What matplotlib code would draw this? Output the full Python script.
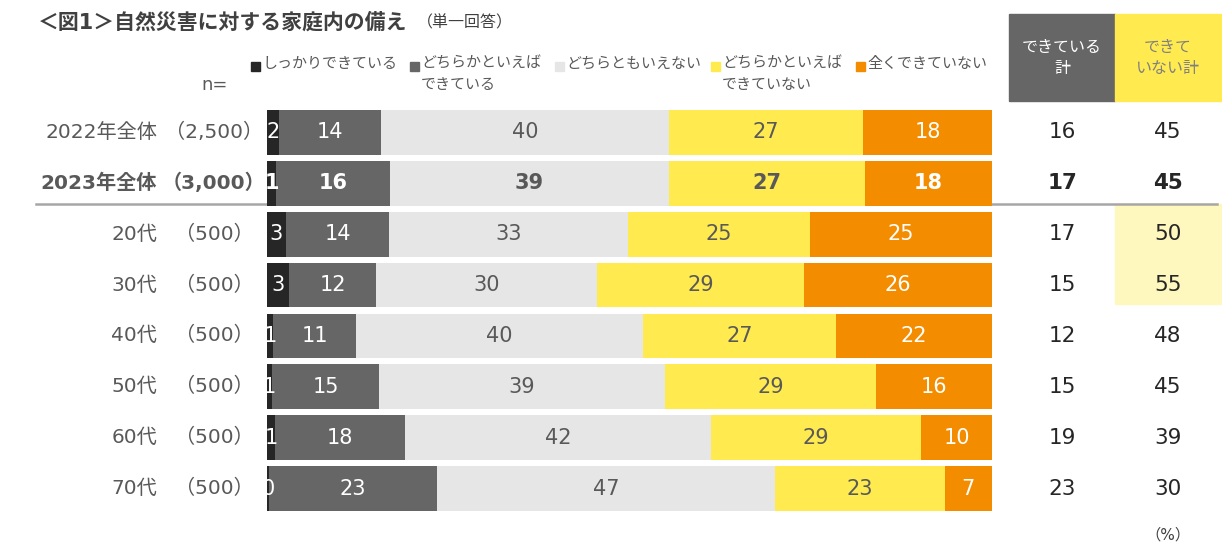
import numpy as np
import matplotlib
matplotlib.use("Agg")
import matplotlib.pyplot as plt
import matplotlib.patches as mpatches

plt.rcParams['font.family'] = ['DejaVu Sans', 'Noto Sans CJK JP']

# data (segment widths in %, labels are rounded values)
groups = ["2022年全体", "2023年全体", "20代", "30代", "40代", "50代", "60代", "70代"]
n_labels = ["（2,500）", "（3,000）", "（500）", "（500）", "（500）", "（500）", "（500）", "（500）"]
series_names = ["しっかりできている", "どちらかといえば\nできている", "どちらともいえない",
                "どちらかといえば\nできていない", "全くできていない"]
shikkari = [1.66, 1.30, 2.62, 3.03, 0.83, 0.69, 1.10, 0.28]
dochiraka_yes = [14.07, 15.60, 14.21, 12.00, 11.45, 14.76, 17.93, 23.17]
dochiratomo = [39.68, 38.55, 32.92, 30.44, 39.55, 39.45, 42.21, 46.55]
dochiraka_no = [26.80, 27.00, 25.15, 28.60, 26.67, 29.10, 28.97, 23.45]
mattaku = [17.79, 17.55, 25.10, 25.93, 21.52, 16.00, 9.79, 6.55]
total_yes = [16, 17, 17, 15, 12, 15, 19, 23]
total_no = [45, 45, 50, 55, 48, 45, 39, 30]

colors = ["#262626", "#666666", "#E6E6E6", "#FFEB50", "#F48C00"]
text_colors = ["white", "white", "#595959", "#595959", "white"]

W, H = 1222, 558
fig = plt.figure(figsize=(W / 100, H / 100), dpi=100)

def fx(px):
    return px / W

def fy(py):
    return 1 - py / H

# bar axes: x 267..992 px, y 107..514 px
ax = fig.add_axes([fx(267), fy(514), (992 - 267) / W, (514 - 107) / H])
ax.set_xlim(0, 100)
ax.set_ylim(len(groups) - 0.5, -0.5)
ax.axis('off')

ypos = np.arange(len(groups))
data = np.array([shikkari, dochiraka_yes, dochiratomo, dochiraka_no, mattaku])
left = np.zeros(len(groups))
for k, vals in enumerate(data):
    ax.barh(ypos, vals, left=left, height=0.88, color=colors[k], zorder=2)
    for i, v in enumerate(vals):
        ax.text(left[i] + v / 2, i, f"{v:.0f}", ha='center', va='center',
                fontsize=15, color=text_colors[k],
                fontweight='bold' if i == 1 else 'normal',
                clip_on=True, zorder=3)
    left += vals

tr = ax.get_yaxis_transform()

def ax_x(px):
    return (px - 267) / (992 - 267)

# separator under 2023 row
ax.plot([ax_x(36), 0], [1.4, 1.4], transform=tr, color="#A6A6A6", lw=1.8,
        clip_on=False, zorder=1)
ax.plot([1, ax_x(1217)], [1.4, 1.4], transform=tr, color="#A6A6A6", lw=1.8,
        clip_on=False, zorder=1)

# highlight of 20s/30s in right column
ax.add_patch(mpatches.Rectangle((ax_x(1115), 1.40), ax_x(1221) - ax_x(1115), 1.98,
                                transform=tr, color="#FFF8BE", clip_on=False, zorder=0))

# row labels and totals
for i in range(len(groups)):
    bold = 'bold' if i == 1 else 'normal'
    ax.text(ax_x(157), i, groups[i], transform=tr, ha='right', va='center',
            fontsize=14.5, color="#595959", fontweight=bold, clip_on=False)
    ax.text(ax_x(214), i, n_labels[i], transform=tr, ha='center', va='center',
            fontsize=14.5, color="#595959", fontweight=bold, clip_on=False)
    ax.text(ax_x(1062), i, str(total_yes[i]), transform=tr, ha='center', va='center',
            fontsize=15.5, color="#262626", fontweight=bold, clip_on=False)
    ax.text(ax_x(1168), i, str(total_no[i]), transform=tr, ha='center', va='center',
            fontsize=15.5, color="#262626", fontweight=bold, clip_on=False)

# title
fig.text(fx(38), fy(22), "＜図1＞自然災害に対する家庭内の備え", ha='left', va='center',
         fontsize=15, fontweight='bold', color="#404040")
fig.text(fx(417), fy(23), "（単一回答）", ha='left', va='center',
         fontsize=11.5, color="#404040")

# legend
leg_x = [251, 410, 555, 711, 856]
for k in range(5):
    fig.patches.append(mpatches.Rectangle((fx(leg_x[k]), fy(71)), 9 / W, 9 / H,
                                          transform=fig.transFigure, color=colors[k]))
    fig.text(fx(leg_x[k] + 11), fy(56), series_names[k], ha='left', va='top',
             fontsize=10.8, color="#595959", linespacing=1.5)
fig.text(fx(215), fy(85), "n=", ha='center', va='center', fontsize=13, color="#595959")

# header boxes
fig.patches.append(mpatches.Rectangle((fx(1009), fy(101)), 106 / W, 87 / H,
                                      transform=fig.transFigure, color="#666666"))
fig.patches.append(mpatches.Rectangle((fx(1115), fy(101)), 107 / W, 87 / H,
                                      transform=fig.transFigure, color="#FFEB50"))
fig.text(fx(1062), fy(58), "できている\n計", ha='center', va='center', fontsize=11.5,
         color="white", linespacing=1.45)
fig.text(fx(1168), fy(58), "できて\nいない計", ha='center', va='center', fontsize=11.5,
         color="#808080", linespacing=1.45)

fig.text(fx(1168), fy(535), "（%）", ha='center', va='center', fontsize=11, color="#404040")

fig.savefig("out.png", dpi=100)
